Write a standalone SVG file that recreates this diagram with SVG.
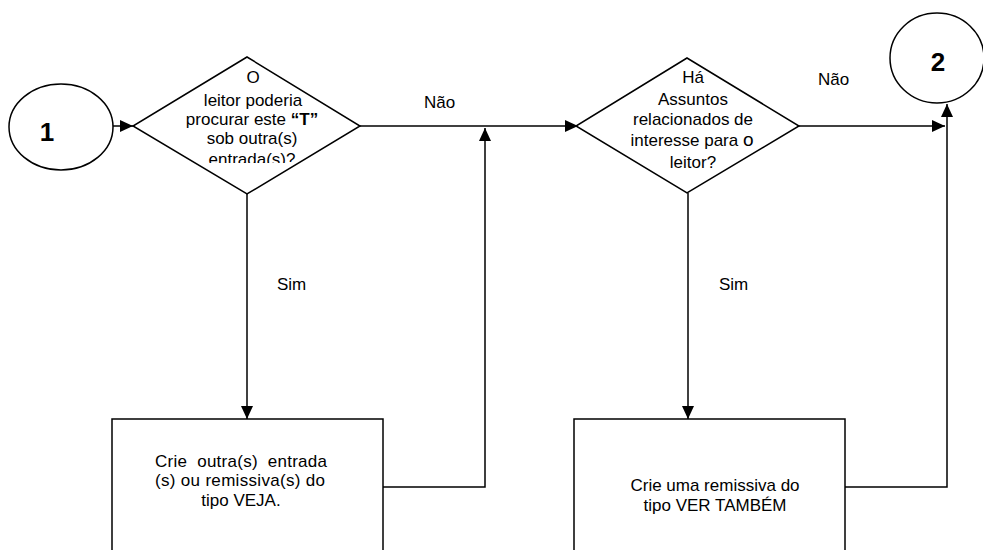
<svg xmlns="http://www.w3.org/2000/svg" width="983" height="550" viewBox="0 0 983 550">
<style>
  .ln { fill: none; stroke: #000; stroke-width: 1.5; }
  .shape { fill: #fff; stroke: #000; stroke-width: 1.5; }
  .t { font-family: "Liberation Sans", Arial, sans-serif; font-size: 17px; fill: #000; text-anchor: middle; }
  .lbl { font-family: "Liberation Sans", Arial, sans-serif; font-size: 17px; fill: #000; }
  .num { font-family: "Liberation Sans", Arial, sans-serif; font-size: 26px; font-weight: bold; fill: #000; text-anchor: middle; }
</style>
<defs>
  <marker id="arr" markerUnits="userSpaceOnUse" markerWidth="14" markerHeight="13" refX="13" refY="6" orient="auto">
    <path d="M0,0 L13,6 L0,12 z" fill="#000"/>
  </marker>
  <clipPath id="clipD1"><rect x="130" y="60" width="240" height="103"/></clipPath>
</defs>
<rect width="983" height="550" fill="#fff"/>

<g id="connectors">
  <line class="ln" x1="113" y1="126" x2="133" y2="126" marker-end="url(#arr)"/>
  <line class="ln" x1="360" y1="126" x2="578" y2="126" marker-end="url(#arr)"/>
  <line class="ln" x1="247" y1="194" x2="247" y2="419" marker-end="url(#arr)"/>
  <polyline class="ln" points="383,487 485,487 485,128" marker-end="url(#arr)"/>
  <line class="ln" x1="799" y1="126" x2="945" y2="126" marker-end="url(#arr)"/>
  <line class="ln" x1="688" y1="193" x2="688" y2="419" marker-end="url(#arr)"/>
  <polyline class="ln" points="845,487 947,487 947,104" marker-end="url(#arr)"/>
  <text class="lbl" x="424" y="108">Não</text>
  <text class="lbl" x="818" y="85">Não</text>
  <text class="lbl" x="277" y="290">Sim</text>
  <text class="lbl" x="719" y="290">Sim</text>
</g>

<g id="start1">
  <ellipse class="shape" cx="61" cy="127" rx="52" ry="43"/>
  <text class="num" x="47" y="141">1</text>
</g>

<g id="end2">
  <ellipse class="shape" cx="937" cy="58" rx="47" ry="45"/>
  <text class="num" x="938" y="71">2</text>
</g>

<g id="decision1">
  <polygon class="shape" points="247,57 360,126 247,194 133,126"/>
  <g clip-path="url(#clipD1)">
    <text class="t" x="253" y="83">O</text>
    <text class="t" x="253" y="106">leitor poderia</text>
    <text class="t" x="252" y="125">procurar este <tspan font-weight="bold">“T”</tspan></text>
    <text class="t" x="252" y="144">sob outra(s)</text>
    <text class="t" x="252" y="164.5">entrada(s)?</text>
  </g>
</g>

<g id="decision2">
  <polygon class="shape" points="687,58 799,126 687,193 576,126"/>
  <text class="t" x="693" y="83">Há</text>
  <text class="t" x="693" y="105">Assuntos</text>
  <text class="t" x="693" y="125" font-size="16">relacionados de</text>
  <text class="t" x="692" y="146" font-size="16">interesse para <tspan font-size="19">o</tspan></text>
  <text class="t" x="693" y="168" font-size="19">leitor?</text>
</g>

<g id="action1">
  <rect class="shape" x="112" y="419" width="271" height="200"/>
  <text class="t" x="241" y="467" textLength="172" lengthAdjust="spacing" xml:space="preserve">Crie  outra(s)  entrada</text>
  <text class="t" x="240" y="486" textLength="170" lengthAdjust="spacing">(s) ou remissiva(s) do</text>
  <text class="t" x="241" y="506">tipo VEJA.</text>
</g>

<g id="action2">
  <rect class="shape" x="574" y="419" width="271" height="200"/>
  <text class="t" x="715" y="491">Crie uma remissiva do</text>
  <text class="t" x="715" y="511">tipo VER TAMBÉM</text>
</g>
</svg>
